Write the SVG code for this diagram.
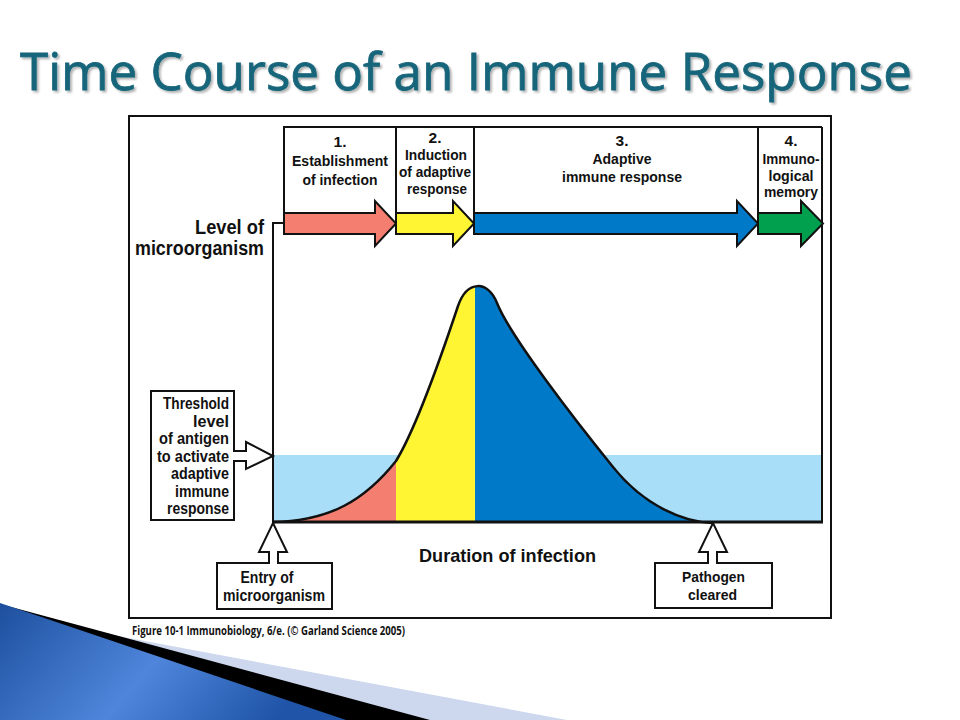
<svg xmlns="http://www.w3.org/2000/svg" width="960" height="720" viewBox="0 0 960 720">
<defs>
<style>
.lbl{font-family:"Liberation Sans",Arial,sans-serif;font-weight:bold;fill:#111;}
.ln{fill:none;stroke:#111;stroke-width:2;}
.arr{stroke:#111;stroke-width:2;stroke-linejoin:miter;}
.hollow{fill:#fff;stroke:#111;stroke-width:2;}
</style>
<linearGradient id="blueG" x1="0" y1="0" x2="1" y2="0.3">
<stop offset="0" stop-color="#1d4f9e"/>
<stop offset="0.55" stop-color="#4f86db"/>
<stop offset="1" stop-color="#1f54a8"/>
</linearGradient>
<filter id="sh" x="-5%" y="-20%" width="110%" height="150%">
<feDropShadow dx="2" dy="2" stdDeviation="1" flood-color="#000" flood-opacity="0.3"/>
</filter>
<clipPath id="under">
<path d="M273,522 C330,521 365,500 396,461 C418,425 445,345 458,306 C467,280 488,280 497,303 C510,336 575,420 613,467 C645,507 685,522 712,523 L712,523 L273,523 Z"/>
</clipPath>
</defs>
<rect width="960" height="720" fill="#fff"/>

<g id="decoration">
<polygon points="0,614 567,720 0,720" fill="#cdd8ee"/>
<polygon points="0,604 430,720 0,720" fill="#000"/>
<polygon points="0,603 346,720 0,720" fill="url(#blueG)"/>
</g>

<g id="title">
<text x="20" y="90" font-family="'Open Sans','Liberation Sans',sans-serif" font-size="52" fill="#15657a" stroke="#15657a" stroke-width="0.8" textLength="892" lengthAdjust="spacingAndGlyphs" filter="url(#sh)">Time Course of an Immune Response</text>
</g>

<g id="frame">
<rect x="129" y="116" width="702" height="502" fill="#fff" stroke="#111" stroke-width="2"/>
<text x="132" y="635" font-family="'Open Sans','Liberation Sans',sans-serif" font-size="12" font-weight="bold" fill="#111" textLength="273" lengthAdjust="spacingAndGlyphs">Figure 10-1  Immunobiology, 6/e. (© Garland Science 2005)</text>
</g>

<g id="chart">
<rect x="273" y="455" width="549" height="67" fill="#a9def8"/>
<g clip-path="url(#under)">
<rect x="273" y="270" width="123" height="260" fill="#f47f71"/>
<rect x="396" y="270" width="79" height="260" fill="#fff533"/>
<rect x="475" y="270" width="240" height="260" fill="#0079c9"/>
</g>
<path d="M273,522 C330,521 365,500 396,461 C418,425 445,345 458,306 C467,280 488,280 497,303 C510,336 575,420 613,467 C645,507 685,522 712,523" fill="none" stroke="#111" stroke-width="2.5"/>
</g>

<g id="connectors">
<polyline class="ln" points="284,223 273,223 273,522"/>
<line x1="272" y1="522" x2="823" y2="522" stroke="#111" stroke-width="3"/>
<line class="ln" x1="822" y1="127" x2="822" y2="522"/>
<polyline class="ln" points="284,213 284,127 822,127"/>
<line class="ln" x1="396" y1="127" x2="396" y2="213"/>
<line class="ln" x1="474" y1="127" x2="474" y2="213"/>
<line class="ln" x1="758" y1="127" x2="758" y2="213"/>
</g>

<g id="stage1">
<polygon class="arr" fill="#f47f71" points="284,213 375,213 375,201 396,223.5 375,246 375,234 284,234"/>
<g class="lbl" font-size="15.5" text-anchor="middle">
<text x="340" y="147">1.</text>
<text x="340" y="166" textLength="96" lengthAdjust="spacingAndGlyphs">Establishment</text>
<text x="340" y="185" textLength="75" lengthAdjust="spacingAndGlyphs">of infection</text>
</g>
</g>
<g id="stage2">
<polygon class="arr" fill="#fff533" points="396,213 453,213 453,201 474,223.5 453,246 453,234 396,234"/>
<g class="lbl" font-size="15.5" text-anchor="middle">
<text x="435" y="143">2.</text>
<text x="436" y="160" textLength="62" lengthAdjust="spacingAndGlyphs">Induction</text>
<text x="435" y="177" textLength="72" lengthAdjust="spacingAndGlyphs">of adaptive</text>
<text x="437" y="194" textLength="60" lengthAdjust="spacingAndGlyphs">response</text>
</g>
</g>
<g id="stage3">
<polygon class="arr" fill="#0079c9" points="474,213 737,213 737,201 758,223.5 737,246 737,234 474,234"/>
<g class="lbl" font-size="15.5" text-anchor="middle">
<text x="622" y="146">3.</text>
<text x="622" y="164" textLength="59" lengthAdjust="spacingAndGlyphs">Adaptive</text>
<text x="622" y="182" textLength="120" lengthAdjust="spacingAndGlyphs">immune response</text>
</g>
</g>
<g id="stage4">
<polygon class="arr" fill="#00a04e" points="758,213 801,213 801,201 823,223.5 801,246 801,234 758,234"/>
<g class="lbl" font-size="15.5" text-anchor="middle">
<text x="791" y="146">4.</text>
<text x="791" y="164" textLength="57" lengthAdjust="spacingAndGlyphs">Immuno-</text>
<text x="791" y="181" textLength="45" lengthAdjust="spacingAndGlyphs">logical</text>
<text x="791" y="197" textLength="54" lengthAdjust="spacingAndGlyphs">memory</text>
</g>
</g>

<g id="y-label">
<text class="lbl" font-size="19.5" x="195" y="234" textLength="69" lengthAdjust="spacingAndGlyphs">Level of</text>
<text class="lbl" font-size="19.5" x="135" y="255" textLength="129" lengthAdjust="spacingAndGlyphs">microorganism</text>
</g>

<g id="x-label">
<text class="lbl" font-size="19" x="419" y="562" textLength="177" lengthAdjust="spacingAndGlyphs">Duration of infection</text>
</g>

<g id="threshold">
<rect class="hollow" x="151" y="391" width="83" height="129"/>
<polygon class="hollow" points="234,451 246,451 246,442 273,456 246,469 246,461 234,461"/>
<line x1="234" y1="452" x2="234" y2="460" stroke="#fff" stroke-width="2"/>
<g class="lbl" font-size="16" text-anchor="end">
<text x="229" y="409" textLength="66" lengthAdjust="spacingAndGlyphs">Threshold</text>
<text x="229" y="427" textLength="36" lengthAdjust="spacingAndGlyphs">level</text>
<text x="229" y="444" textLength="70" lengthAdjust="spacingAndGlyphs">of antigen</text>
<text x="229" y="462" textLength="72" lengthAdjust="spacingAndGlyphs">to activate</text>
<text x="229" y="479" textLength="58" lengthAdjust="spacingAndGlyphs">adaptive</text>
<text x="229" y="497" textLength="54" lengthAdjust="spacingAndGlyphs">immune</text>
<text x="229" y="514" textLength="62" lengthAdjust="spacingAndGlyphs">response</text>
</g>
</g>

<g id="entry">
<rect class="hollow" x="217" y="563" width="115" height="46"/>
<polygon class="hollow" points="269,563 269,552 259,552 273,523 287,552 278,552 278,563"/>
<line x1="270" y1="563" x2="277" y2="563" stroke="#fff" stroke-width="2"/>
<g class="lbl" font-size="16" text-anchor="middle">
<text x="267" y="583" textLength="53" lengthAdjust="spacingAndGlyphs">Entry of</text>
<text x="274" y="601" textLength="102" lengthAdjust="spacingAndGlyphs">microorganism</text>
</g>
</g>

<g id="cleared">
<rect class="hollow" x="655" y="563" width="117" height="45"/>
<polygon class="hollow" points="708,563 708,552 699,552 713,523 727,552 717,552 717,563"/>
<line x1="709" y1="563" x2="716" y2="563" stroke="#fff" stroke-width="2"/>
<g class="lbl" font-size="15.5" text-anchor="middle">
<text x="713.5" y="582" textLength="63" lengthAdjust="spacingAndGlyphs">Pathogen</text>
<text x="712.5" y="600" textLength="49" lengthAdjust="spacingAndGlyphs">cleared</text>
</g>
</g>
</svg>
